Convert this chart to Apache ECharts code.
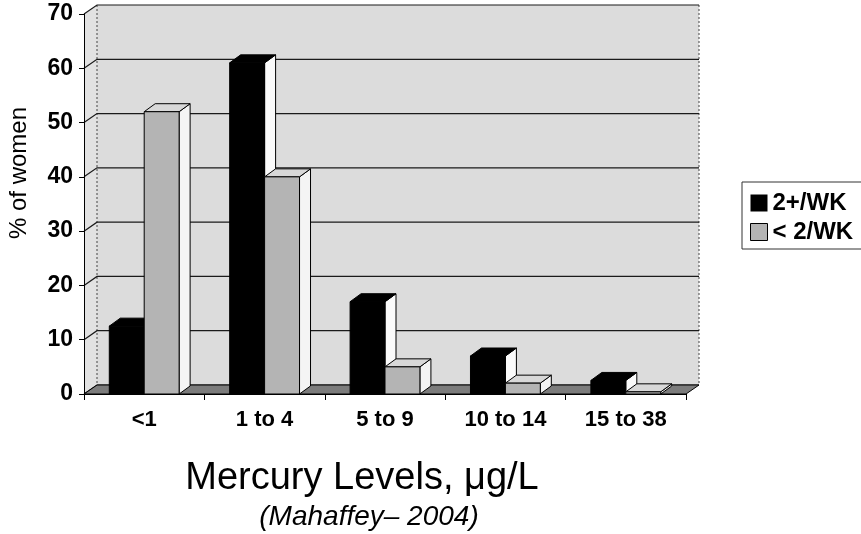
<!DOCTYPE html>
<html><head><meta charset="utf-8">
<script src="https://cdn.jsdelivr.net/npm/echarts@6/dist/echarts.min.js"></script>
<style>html,body{margin:0;padding:0;background:#fff}#c{width:861px;height:534px}</style>
</head><body><div id="c"></div>
<script>
const categories = ['<1', '1 to 4', '5 to 9', '10 to 14', '15 to 38'];
const seriesNames = ['2+/WK', '< 2/WK'];
const highEaters = [12.5, 61, 17, 7, 2.5];
const lowEaters = [52, 40, 5, 2, 0.4];
const yTicks = [0, 10, 20, 30, 40, 50, 60, 70];

const FONT = '"Liberation Sans", Arial, Helvetica, sans-serif';
const WALL_DX = 13, WALL_DY = -9;
const BAR_DX = 11, BAR_DY = -8;

function wallsRender(params, api) {
  const cs = params.coordSys;
  const x0 = cs.x, x1 = cs.x + cs.width;
  const yb = api.coord([0, yTicks[0]])[1];
  const yt = api.coord([0, yTicks[yTicks.length - 1]])[1];
  const ch = [];
  ch.push({type: 'polygon', shape: {points: [[x0 + WALL_DX, yt + WALL_DY], [x1 + WALL_DX, yt + WALL_DY], [x1 + WALL_DX, yb + WALL_DY], [x0 + WALL_DX, yb + WALL_DY]]}, style: {fill: '#dcdcdc'}});
  ch.push({type: 'polygon', shape: {points: [[x0, yt], [x0 + WALL_DX, yt + WALL_DY], [x0 + WALL_DX, yb + WALL_DY], [x0, yb]]}, style: {fill: '#e2e2e2'}});
  ch.push({type: 'line', shape: {x1: x0 + WALL_DX, y1: yt + WALL_DY, x2: x0 + WALL_DX, y2: yb + WALL_DY}, style: {stroke: '#444', lineWidth: 1, lineDash: [2, 2]}});
  ch.push({type: 'line', shape: {x1: x1 + WALL_DX, y1: yt + WALL_DY, x2: x1 + WALL_DX, y2: yb + WALL_DY}, style: {stroke: '#444', lineWidth: 1, lineDash: [2, 2]}});
  yTicks.forEach(function (v) {
    const y = api.coord([0, v])[1];
    ch.push({type: 'polyline', shape: {points: [[x0, y], [x0 + WALL_DX, y + WALL_DY], [x1 + WALL_DX, y + WALL_DY]]}, style: {stroke: '#1a1a1a', lineWidth: 1.2, fill: null}});
  });
  ch.push({type: 'polygon', shape: {points: [[x0, yb], [x1, yb], [x1 + WALL_DX, yb + WALL_DY], [x0 + WALL_DX, yb + WALL_DY]]}, style: {fill: '#7c7c7c', stroke: '#000', lineWidth: 1}});
  return {type: 'group', children: ch};
}

function barRender(left, frontColor, topColor, sideColor) {
  return function (params, api) {
    const i = api.value(0), v = api.value(1);
    const base = api.coord([i, 0]);
    const top = api.coord([i, v]);
    const band = api.size([1, 0])[0];
    const w = band * 0.29;
    const xl = left ? base[0] - w : base[0];
    const xr = xl + w;
    const yT = top[1], yB = base[1];
    const st = {stroke: '#000', lineWidth: 1, lineJoin: 'round'};
    return {type: 'group', children: [
      {type: 'polygon', shape: {points: [[xr, yT], [xr, yB], [xr + BAR_DX, yB + BAR_DY], [xr + BAR_DX, yT + BAR_DY]]}, style: Object.assign({fill: sideColor}, st)},
      {type: 'polygon', shape: {points: [[xl, yT], [xr, yT], [xr + BAR_DX, yT + BAR_DY], [xl + BAR_DX, yT + BAR_DY]]}, style: Object.assign({fill: topColor}, st)},
      {type: 'rect', shape: {x: xl, y: yT, width: w, height: yB - yT}, style: Object.assign({fill: frontColor}, st)}
    ]};
  };
}

const chart = echarts.init(document.getElementById('c'), null, {renderer: 'canvas'});
chart.setOption({
  animation: false,
  backgroundColor: '#fff',
  grid: {left: 84, right: 175, top: 14, bottom: 140, containLabel: false},
  xAxis: {
    type: 'category', data: categories, boundaryGap: true, z: 10,
    axisLine: {show: true, lineStyle: {color: '#000', width: 1}},
    axisTick: {show: true, length: 6, lineStyle: {color: '#000'}},
    axisLabel: {fontSize: 22, fontWeight: 'bold', color: '#000', fontFamily: FONT, margin: 15},
    splitLine: {show: false}
  },
  yAxis: {
    type: 'value', min: 0, max: 70, interval: 10, z: 10,
    axisLine: {show: true, lineStyle: {color: '#000', width: 1}},
    axisTick: {show: true, length: 5, lineStyle: {color: '#000'}},
    axisLabel: {fontSize: 23, fontWeight: 'bold', color: '#000', fontFamily: FONT, margin: 11},
    splitLine: {show: false}
  },
  legend: {
    left: 742, top: 182, orient: 'vertical', itemWidth: 17, itemHeight: 17, itemGap: 5,
    padding: [9, 11, 5, 8], borderColor: '#333', borderWidth: 1, selectedMode: false,
    textStyle: {fontSize: 24, fontWeight: 'bold', color: '#000', fontFamily: FONT},
    data: [
      {name: seriesNames[0], icon: 'rect', itemStyle: {color: '#000'}},
      {name: seriesNames[1], icon: 'rect', itemStyle: {color: '#b4b4b4', borderColor: '#000', borderWidth: 1}}
    ]
  },
  graphic: [
    {type: 'text', x: 19, y: 173, rotation: Math.PI / 2, style: {text: '% of women', fontSize: 24, fontFamily: FONT, fill: '#000', textAlign: 'center', textVerticalAlign: 'middle'}},
    {type: 'text', x: 362, y: 479, style: {text: 'Mercury Levels, μg/L', fontSize: 38, fontFamily: FONT, fill: '#000', textAlign: 'center', textVerticalAlign: 'middle'}},
    {type: 'text', x: 369, y: 517, style: {text: '(Mahaffey– 2004)', fontSize: 28, fontStyle: 'italic', fontFamily: FONT, fill: '#000', textAlign: 'center', textVerticalAlign: 'middle'}}
  ],
  series: [
    {type: 'custom', name: 'walls', z: 1, silent: true, clip: false, renderItem: wallsRender, data: [[0, 0]], encode: {x: 0, y: 1}},
    {type: 'custom', name: seriesNames[0], z: 3, silent: true, clip: false, itemStyle: {color: '#000'},
      renderItem: barRender(true, '#000', '#000', '#fafafa'),
      data: highEaters.map(function (v, i) { return [i, v]; }), encode: {x: 0, y: 1}},
    {type: 'custom', name: seriesNames[1], z: 4, silent: true, clip: false, itemStyle: {color: '#b4b4b4'},
      renderItem: barRender(false, '#b4b4b4', '#d8d8d8', '#f4f4f4'),
      data: lowEaters.map(function (v, i) { return [i, v]; }), encode: {x: 0, y: 1}}
  ]
});
</script>
</body></html>
